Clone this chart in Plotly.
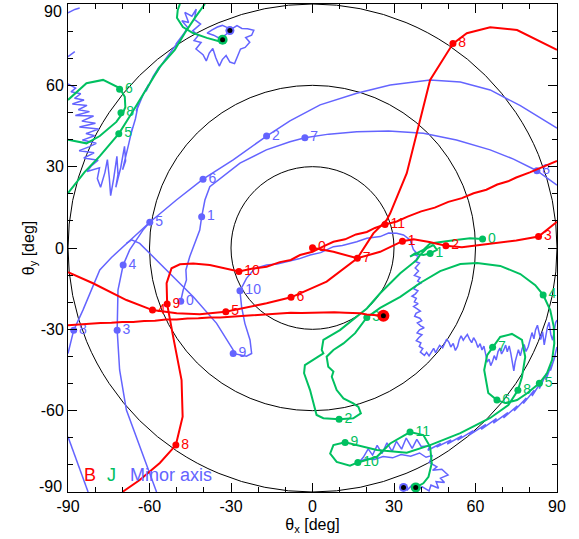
import plotly.graph_objects as go

RED = "#FF0000"
GREEN = "#00C060"
BLUE = "#6464FF"
FONT = "Liberation Sans"

# ---------------- B field direction (red) ----------------
b_track_0_3 = [(0, 0.1), (7.7, -1.4), (16.5, -3.8), (24.9, -1.4), (33.1, 2.5), (37.2, 3.2),
               (43, 2.2), (49.1, 0.8), (55, 0.3), (65, 1.5), (75, 2.8), (83.2, 4.2), (90, 9.7)]
b_track_4_8 = [(-90, -8.9), (-80.8, -13.0), (-68.5, -19.2), (-58.9, -22.9), (-50, -24.1),
               (-41.5, -24.4), (-32, -23.5), (-16.9, -20.4), (-7.9, -18.2), (5.2, -12.4),
               (16.5, -3.8), (22.4, 5.4), (27.3, 10.3), (28.6, 12.8), (34.7, 27.6), (38.4, 42.3),
               (43.3, 62), (51.7, 75.4), (56.8, 79.2), (65.4, 81.4), (75.3, 80.4), (90, 73.1)]
b_track_8_11 = [(-70, -90), (-63.6, -85.6), (-56.2, -79.3), (-50.3, -72.7), (-47.8, -62.2),
                (-48.2, -48.7), (-51.3, -32.7), (-53.5, -20.7), (-53.7, -13), (-51.9, -7.5),
                (-48.8, -6), (-43.9, -5.7), (-37.8, -6.3), (-27.1, -8.7), (-22, -7.6),
                (-16.9, -6.9), (-12, -5.2), (-8, -4.4), (-4.6, -2.6), (0, -1.4), (4, 0.6),
                (7.7, 2.3), (12, 3.2), (16, 5.0), (20, 5.9), (23, 7.4), (26.7, 8.7), (31, 9.8),
                (35, 11.6), (40, 13.5), (45, 14.9), (50, 17.0), (55, 18.4), (59.3, 20.2),
                (64, 21.5), (68, 23.4), (72, 24.6), (75, 26), (80, 27.9), (85, 30.0), (90, 32.1)]
b_track_end = [(-90, -28.5), (-86, -28.2), (-82, -28.1), (-78, -27.7), (-74, -27.6), (-70, -27.3),
               (-66, -27.3), (-62, -26.9), (-58, -26.8), (-54, -26.4), (-50, -26.4), (-46, -26.0),
               (-42, -25.9), (-38, -25.6), (-34, -25.6), (-30, -25.3), (-26, -25.0), (-22, -24.7),
               (-17, -24.3), (-12, -24.2), (-8, -23.9), (-4, -24.0), (0, -23.9), (4, -23.6),
               (8, -23.7), (12, -23.9), (17.5, -24.1), (20, -24.5), (22.4, -24.7), (26.1, -25.0)]
b_mark_lbl = ["0", "1", "2", "3", "4", "5", "6", "7", "8", "8", "9", "10", "11"]
b_mark_x = [0, 33.1, 49.1, 83.2, -58.9, -31.9, -7.9, 16.5, 51.7, -50.3, -53.5, -27.1, 26.7]
b_mark_y = [0.1, 2.5, 0.8, 4.2, -22.9, -23.5, -18.2, -3.8, 75.4, -72.7, -20.7, -8.7, 8.7]
b_end_x, b_end_y = [26.1], [-25.0]

# ---------------- J direction (green) ----------------
j_track_main = [(62.6, 3.3), (58, 3.6), (52, 2.9), (47, 2.3), (43.3, 1.7), (40.8, -0.7), (37.2, -2.6),
                (35.9, -3.2), (37.8, -2.0), (40.8, -2.6), (43.3, -2.0), (45.8, -0.7), (44.5, 1.1),
                (42.1, -0.1), (39.6, -2.6), (38.4, -4.4), (32.3, -9.3), (24.9, -16.7), (20, -22.3),
                (10.1, -30.3), (4, -33.9), (3.4, -37.6), (4, -38.9), (-2.8, -43.2), (-3.1, -46.2),
                (-0.9, -52.4), (0.9, -58.6), (1.5, -61.6), (4, -62.8), (9.8, -63.2), (15, -62.8),
                (17.8, -61), (16.9, -58.6), (15, -57.3), (11.4, -55.5), (8.9, -52.4), (7.1, -47.5),
                (7.7, -45.6), (5.8, -43.8), (5.2, -40.1), (7.7, -37.6), (11.4, -35.2), (15.7, -31.4),
                (20, -25.6), (24.9, -22.1), (32.3, -18), (39.6, -12.9), (47, -8.5), (54.4, -5.9),
                (60.6, -5.5), (69.1, -6.6), (76.5, -9.6), (82, -13.7), (84.9, -17.3), (87.5, -22.9),
                (88.8, -29), (89, -35.2), (88.2, -41.3), (86.3, -46.2), (83.5, -49.9), (79, -53.6),
                (75.3, -56.1), (71, -57.2), (67.9, -56.1), (64.7, -53.5), (63.2, -45), (64.3, -39.5),
                (66.3, -36.6), (69.1, -32.8), (73.4, -31.7), (77.1, -33.9), (78.3, -40.2),
                (77.1, -47.6), (75.6, -52.5), (72.1, -57.9), (65.4, -62.7), (54.4, -68.3),
                (43.3, -72.7), (34.7, -75.5), (23.7, -74.5), (16.3, -72.7), (12, -71.7), (7.7, -72.7),
                (6.5, -75.8), (8.9, -78.9), (13.8, -80.3), (16.7, -79.1), (23.7, -77), (28.6, -72.1),
                (35.9, -67.9), (40.8, -69), (43.3, -73.3), (43.9, -79.4), (42.7, -84.4), (40.8, -86.8),
                (38, -88.3)]
j_track_loop_nw = [(-90, 54.6), (-83.2, 60.8), (-77.1, 62), (-71, 59), (-69.1, 55.8), (-68.9, 52),
                   (-69.7, 50), (-72.2, 46.5), (-78.3, 41.3), (-83.2, 38.6), (-90, 39.9)]
j_track_diag_nw = [(-90, 20.2), (-83.9, 28), (-78.3, 33.9), (-71.2, 42.3), (-66.5, 49.8), (-63.6, 54.6),
                   (-59.9, 60.9), (-56.2, 66.8), (-50.7, 73.1), (-47, 79.3), (-43.3, 84.9), (-39.6, 90)]
j_track_top_nw = [(-48.8, 90), (-49.6, 87.8), (-49.9, 84.9), (-47.7, 81.5), (-44, 79.3), (-38.9, 77.5),
                  (-34.8, 76.4), (-33.1, 76.8)]
j_mark_lbl = ["0", "1", "2", "3", "4", "5", "6", "7", "8", "9", "10", "11", "6", "8", "5"]
j_mark_x = [62.6, 43.3, 9.8, 20, 84.9, 83.5, 67.9, 66.3, 75.6, 12, 16.7, 35.9, -71, -70.5, -71.3]
j_mark_y = [3.3, -2.0, -63.2, -25.6, -17.3, -49.9, -56.1, -36.6, -52.5, -71.7, -79.1, -67.9, 58.6, 49.9, 42.1]
j_end_x = [38, -33.1]
j_end_y = [-88.3, 76.8]

# ---------------- Minor axis (blue) ----------------
m_track_0_8 = [(-48.5, -19.6), (-47.6, -15.5), (-46.4, -11.8), (-46.6, -8.1), (-45.2, -3.2),
               (-43.3, 1.7), (-41.5, 6.6), (-40.8, 11.5), (-39.6, 17.7), (-37.8, 22.6), (-35.3, 24.5),
               (-26.7, 31.3), (-17, 36.2), (-8.3, 39.2), (-2.8, 40.7), (6, 42), (16.3, 42.9),
               (28, 43.2), (40.8, 42.3), (53, 39.8), (65.4, 36.2), (74, 32.8), (82.6, 28.5), (90, 23.2)]
m_track_edge_2 = [(-90, -38.9), (-87.9, -30.3), (-84.5, -22.9), (-80.8, -14.3), (-78.3, -8.1),
                  (-74, -3.5), (-69.7, 0.5), (-64.5, 5.5), (-59.9, 9.5), (-50.1, 17.7), (-40.3, 25.4),
                  (-29.2, 32.5), (-16.9, 41.3), (-8.3, 46.9), (2.8, 52.8), (16.3, 57.1), (28.6, 60.1),
                  (43.3, 62), (54.4, 61.2), (65.4, 58.3), (76.5, 52.5), (90, 44.2)]
m_track_3_4 = [(-57.4, -90), (-63.6, -73.3), (-68.5, -59.8), (-71, -45), (-71.9, -30.3), (-71.6, -15.5),
               (-69.7, -6.3), (-67.3, -0.7), (-62.4, 6.6), (-59.9, 9.5)]
m_track_9_10 = [(-68.5, 1.7), (-66.6, 3.0), (-63.6, 1.7), (-58.7, -3.2), (-52.5, -9.3), (-43.9, -18),
                (-35.3, -27.8), (-29.2, -37.6), (-29.2, -38.9), (-24.3, -39.9), (-22.4, -38.9),
                (-23, -33.9), (-24.9, -27.8), (-26.1, -21.7), (-26.7, -15.8), (-24.3, -11.2),
                (-21.2, -7.5), (-16.9, -6.3), (-13, -5.9), (-9.5, -5.1), (-5, -4.0), (-0.9, -2.6),
                (3, -1.7), (7.7, 0.5), (11, 0.9), (16.3, 2.3), (20, 3.6), (24.9, 4.2), (28, 5.5),
                (31, 5.4), (33.5, 4.8), (35.9, 3.0), (37.2, -0.7)]
m_track_rough_se = [
    (37.2, -0.7), (38.1, -1.6), (37.4, -2.4), (38.9, -3.1), (38.2, -4.3), (37.6, -4.9), (39.4, -5.6),
    (38.5, -6.8), (37.8, -7.4), (39.0, -8.5), (38.3, -9.2), (37.5, -10.1), (39.6, -10.9), (38.7, -12.2),
    (39.9, -13.0), (38.2, -13.9), (37.4, -15.1), (38.8, -15.8), (37.9, -16.9), (36.6, -17.8),
    (38.2, -18.6), (37.5, -19.9), (38.9, -20.5), (37.2, -21.6), (38.4, -22.4), (39.7, -23.3),
    (38.1, -24.1), (37.6, -25.2), (39.5, -25.9), (40.2, -26.8), (38.6, -27.6), (39.8, -28.7),
    (41.1, -29.4), (39.4, -30.2), (38.5, -31.3), (40.3, -32.0), (39.1, -33.1), (38.2, -34.2),
    (39.9, -35.0), (39.3, -36.3), (40.6, -37.1), (39.7, -38.4), (41.2, -39.6), (42.0, -38.5),
    (42.9, -39.8), (43.8, -38.2), (44.6, -37.0), (45.3, -38.6), (46.1, -37.4), (46.8, -35.9),
    (47.9, -36.8), (48.6, -35.1), (49.4, -33.6), (50.3, -34.9), (50.9, -36.5), (51.8, -35.2),
    (52.6, -37.8), (53.4, -36.3), (54.0, -33.9), (54.7, -32.4), (55.5, -34.0), (56.3, -32.8),
    (57.0, -31.9), (57.8, -33.6), (58.6, -34.9), (59.3, -33.1), (60.1, -34.4), (60.9, -36.7),
    (61.7, -35.3), (62.4, -37.6), (63.1, -36.2), (63.8, -39.4), (64.3, -42.1), (65.0, -41.0),
    (65.6, -43.4), (66.3, -41.8), (66.9, -39.7), (67.6, -41.3), (68.3, -38.2), (69.0, -36.9),
    (69.6, -39.1), (70.4, -37.6), (71.1, -35.8), (71.7, -38.3), (72.4, -36.1), (73.0, -38.9),
    (73.5, -42.6), (74.1, -45.3), (74.6, -42.0), (75.2, -39.4), (75.8, -37.5), (76.5, -39.8),
    (77.2, -37.0), (77.9, -35.6), (78.6, -38.2), (79.4, -36.4), (80.1, -33.9), (80.8, -31.2),
    (81.5, -33.5), (82.1, -30.2), (82.8, -28.5), (83.4, -31.6), (84.0, -33.8), (84.7, -30.9),
    (85.3, -35.7), (85.9, -32.4), (86.5, -29.1), (87.1, -27.4), (87.7, -31.8), (88.4, -34.0),
    (89.0, -29.6), (89.5, -27.5), (90, -26.6)]
m_track_rough_s = [
    (90, -36.5), (88.7, -41.8), (89.4, -39.5), (87.6, -45.2), (88.0, -43.0), (85.9, -48.6),
    (86.2, -46.1), (83.5, -51.9), (84.1, -49.5), (80.8, -54.6), (81.6, -52.5), (77.6, -57.4),
    (78.7, -55.3), (74.2, -60.1), (75.4, -58.2), (70.3, -62.7), (71.9, -60.7), (66.6, -64.6),
    (67.7, -62.9), (62.1, -66.9), (63.8, -65.1), (57.8, -68.9), (59.2, -67.4), (53.4, -70.9),
    (55.0, -69.3), (49.6, -72.3), (51.0, -70.8), (45.7, -73.4), (47.2, -72.1), (42.5, -74.6),
    (43.2, -73.0), (40.0, -73.2), (38.4, -70.6), (36.7, -73.9), (34.5, -70.1), (32.8, -74.2),
    (30.9, -71.3), (29.3, -75.0), (27.4, -71.9), (25.6, -75.8), (23.8, -72.8), (22.1, -76.4),
    (20.5, -74.1), (18.7, -77.2), (17.2, -78.9), (19.6, -77.8), (22.8, -78.0), (26.0, -76.9),
    (29.5, -77.4), (32.6, -76.2), (36.1, -76.8), (39.4, -75.6), (41.8, -77.2), (44.1, -76.5),
    (43.0, -79.1), (45.8, -80.7), (44.2, -82.0), (47.6, -81.6), (49.9, -83.7), (47.1, -84.9),
    (48.6, -86.5), (45.5, -86.2), (46.4, -88.6), (43.6, -87.4), (42.9, -89.6), (40.3, -88.0),
    (38.2, -89.8), (36.6, -87.5), (34.9, -89.3), (33.5, -88.3)]
m_track_rough_nw = [
    (-90, 60.5), (-87.2, 59.0), (-88.9, 57.6), (-85.3, 56.9), (-87.6, 55.2), (-84.1, 54.6),
    (-88.4, 53.1), (-83.0, 52.6), (-86.2, 51.0), (-82.1, 50.3), (-87.3, 48.9), (-80.6, 48.7),
    (-84.9, 46.8), (-79.9, 46.0), (-85.8, 44.6), (-78.7, 43.9), (-83.4, 42.2), (-80.2, 41.4),
    (-84.7, 39.8), (-79.6, 38.6), (-82.3, 37.3), (-85.9, 35.9), (-80.4, 35.1), (-84.2, 33.2),
    (-78.9, 32.4), (-81.3, 30.4), (-83.0, 28.2), (-78.4, 29.6), (-79.2, 25.6), (-78.0, 22.4),
    (-76.4, 27.9), (-75.5, 32.6), (-74.8, 26.0), (-74.3, 19.3), (-73.2, 25.5), (-72.0, 33.8),
    (-71.6, 27.2), (-72.4, 22.4), (-70.6, 29.6), (-69.2, 37.5), (-68.8, 32.1), (-69.9, 28.9),
    (-67.6, 38.6), (-66.3, 44.3), (-67.1, 41.1), (-65.2, 47.6), (-64.0, 53.5), (-64.9, 50.4),
    (-62.2, 56.9), (-60.3, 60.4), (-61.3, 57.8), (-58.6, 63.4), (-56.5, 66.7), (-57.6, 64.4),
    (-54.6, 69.0), (-52.3, 72.1), (-53.6, 70.0), (-50.8, 74.2), (-48.9, 76.9), (-50.3, 75.2),
    (-47.2, 79.3), (-46.0, 81.4), (-48.1, 83.8), (-45.6, 83.2), (-47.0, 86.9), (-44.4, 85.5),
    (-42.8, 88.1), (-43.5, 84.3), (-41.2, 82.6), (-44.1, 80.1), (-42.0, 78.4), (-43.6, 76.5),
    (-41.0, 75.8), (-42.9, 73.4), (-40.3, 71.3), (-39.1, 69.0), (-38.0, 71.9), (-36.7, 73.6),
    (-35.6, 70.2), (-34.3, 67.1), (-33.2, 69.5), (-31.8, 71.0), (-30.4, 68.6), (-28.7, 68.0),
    (-27.6, 70.9), (-26.5, 73.4), (-24.8, 74.0), (-23.1, 75.9), (-24.6, 77.6), (-22.4, 78.5),
    (-21.6, 80.3), (-23.9, 80.9), (-26.0, 81.0), (-27.8, 82.0), (-29.6, 80.9), (-31.3, 81.3),
    (-33.2, 82.1), (-35.0, 81.5), (-37.1, 80.4), (-38.8, 79.3), (-36.4, 78.5), (-34.2, 77.3),
    (-32.0, 78.6), (-30.4, 80.2)]
m_track_bits = [[(-90, 86.7), (-87.5, 88.0), (-85.7, 88.5)],
                [(-90, 70.6), (-88.6, 71.6), (-87.5, 72.4)],
                [(-90, -69.6), (-86.5, -79), (-82.6, -90)]]
m_mark_lbl = ["0", "1", "2", "3", "4", "5", "6", "7", "8", "8", "9", "10"]
m_mark_x = [-48.5, -40.8, -16.9, -71.9, -69.7, -59.9, -40.3, -2.8, 82.6, -87.9, -29.2, -26.7]
m_mark_y = [-19.6, 11.5, 41.3, -30.3, -6.3, 9.5, 25.4, 40.7, 28.5, -30.3, -38.9, -15.8]
m_end_x = [33.5, -30.4]
m_end_y = [-88.3, 80.2]

CIRCLE_RADII = [30, 60, 90]
TICK_VALS = [-90, -60, -30, 0, 30, 60, 90]
TICK_TEXT = ["-90", "-60", "-30", "0", "30", "60", "90"]
# the two end labels of the y axis are placed by hand so they stay inside the page
Y_TICK_VALS = [-60, -30, 0, 30, 60]
Y_TICK_TEXT = ["-60", "-30", "0", "30", "60"]

fig = go.Figure()


def add_path(points, color, width):
    fig.add_trace(go.Scatter(
        x=[p[0] for p in points], y=[p[1] for p in points], mode="lines",
        line=dict(color=color, width=width), hoverinfo="skip"))


def add_marks(xs, ys, labels, color):
    fig.add_trace(go.Scatter(
        x=xs, y=ys, mode="markers+text", text=labels, textposition="middle right",
        marker=dict(color=color, size=7),
        textfont=dict(color=color, size=14, family=FONT), hoverinfo="skip"))


def add_end(xs, ys, color, size):
    fig.add_trace(go.Scatter(x=xs, y=ys, mode="markers",
                             marker=dict(color=color, size=size), hoverinfo="skip"))
    fig.add_trace(go.Scatter(x=xs, y=ys, mode="markers",
                             marker=dict(color="black", size=5), hoverinfo="skip"))


# minor axis
for seg in [m_track_0_8, m_track_edge_2, m_track_3_4, m_track_9_10,
            m_track_rough_se, m_track_rough_s, m_track_rough_nw] + m_track_bits:
    add_path(seg, BLUE, 1.5)
add_marks(m_mark_x, m_mark_y, m_mark_lbl, BLUE)
add_end(m_end_x, m_end_y, BLUE, 9)

# J
for seg in [j_track_main, j_track_loop_nw, j_track_diag_nw, j_track_top_nw]:
    add_path(seg, GREEN, 2)
add_marks(j_mark_x, j_mark_y, j_mark_lbl, GREEN)
add_end(j_end_x, j_end_y, GREEN, 10)

# B
for seg in [b_track_0_3, b_track_4_8, b_track_8_11, b_track_end]:
    add_path(seg, RED, 2)
add_marks(b_mark_x, b_mark_y, b_mark_lbl, RED)
add_end(b_end_x, b_end_y, RED, 12)

for r in CIRCLE_RADII:
    fig.add_shape(type="circle", xref="x", yref="y", x0=-r, y0=-r, x1=r, y1=r,
                  line=dict(color="black", width=1), layer="below")

for txt, x0, col in [("B", -85, RED), ("J", -76.5, GREEN), ("Minor axis", -68, BLUE)]:
    fig.add_annotation(x=x0, y=-83.8, xref="x", yref="y", text=txt, showarrow=False,
                       xanchor="left", yanchor="middle", font=dict(color=col, size=18, family=FONT))

# end labels of the y axis
fig.add_annotation(x=0, y=1, xref="paper", yref="paper", text="90", showarrow=False,
                   xanchor="right", yanchor="top", xshift=-4, yshift=3,
                   font=dict(size=16, family=FONT, color="black"))
fig.add_annotation(x=0, y=0, xref="paper", yref="paper", text="-90", showarrow=False,
                   xanchor="right", yanchor="bottom", xshift=-4, yshift=-5,
                   font=dict(size=16, family=FONT, color="black"))

axis_common = dict(
    range=[-90, 90], tickmode="array",
    ticks="inside", ticklen=9, tickwidth=1, tickcolor="black", showline=True, linecolor="black",
    linewidth=1, mirror="ticks", showgrid=False, zeroline=False,
    tickfont=dict(size=16, family=FONT, color="black"),
    minor=dict(tickmode="linear", tick0=0, dtick=10, ticks="inside", ticklen=5,
               tickcolor="black", showgrid=False),
)

fig.update_layout(
    width=579, height=539,
    margin=dict(l=68, r=22, t=4, b=47),
    plot_bgcolor="white", paper_bgcolor="white", showlegend=False,
    xaxis=dict(axis_common, tickvals=TICK_VALS, ticktext=TICK_TEXT,
               title=dict(text="θ<sub>x</sub> [deg]", standoff=4,
                          font=dict(size=16, family=FONT, color="black"))),
    yaxis=dict(axis_common, tickvals=Y_TICK_VALS, ticktext=Y_TICK_TEXT,
               title=dict(text="θ<sub>y</sub> [deg]", standoff=2,
                          font=dict(size=16, family=FONT, color="black"))),
)

fig.write_html("out.html")
